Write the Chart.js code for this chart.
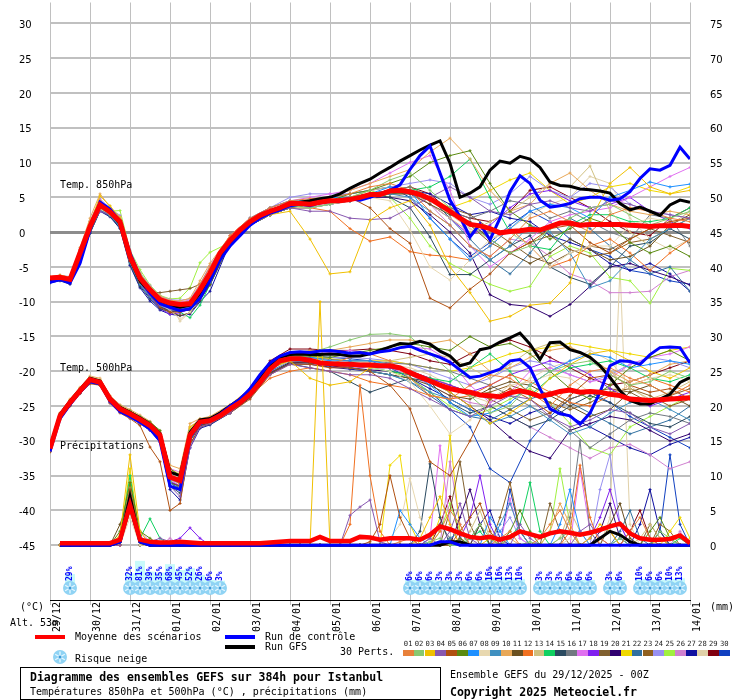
<!DOCTYPE html>
<html lang="fr">
<head>
<meta charset="utf-8">
<title>Diagramme des ensembles GEFS sur 384h pour Istanbul</title>
<script src="https://cdn.jsdelivr.net/npm/chart.js@4.4.1/dist/chart.umd.min.js"></script>
<style>
html,body{margin:0;padding:0;background:#fff;}
#wrap{position:relative;width:740px;height:700px;overflow:hidden;font-family:"DejaVu Sans Mono",monospace;font-size:10px;color:#000;}
#c{position:absolute;left:0;top:0;}
.t{position:absolute;white-space:pre;line-height:12px;}
.tb{position:absolute;white-space:pre;font-weight:bold;font-size:11.5px;line-height:14px;}
.sw{position:absolute;width:30px;height:4px;}
#box{position:absolute;left:20px;top:667px;width:419px;height:31px;border:1px solid #000;}
.pn{position:absolute;font-size:7.2px;line-height:8px;width:11px;text-align:center;color:#222;}
.pb{position:absolute;height:6px;}
</style>
</head>
<body>
<div id="wrap">
<canvas id="c" width="740" height="700"></canvas>
<div class="t" style="left:60px;top:179px">Temp. 850hPa</div>
<div class="t" style="left:60px;top:362px">Temp. 500hPa</div>
<div class="t" style="left:60px;top:440px">Précipitations</div>
<div class="t" style="left:20px;top:601px">(°C)</div>
<div class="t" style="left:10px;top:617px">Alt. 53m</div>
<div class="t" style="left:710px;top:601px">(mm)</div>
<div class="sw" style="left:35px;top:635px;background:#ff0000"></div>
<div class="t" style="left:75px;top:631px">Moyenne des scénarios</div>
<div class="sw" style="left:225px;top:635px;background:#0000ff"></div>
<div class="t" style="left:265px;top:631px">Run de contrôle</div>
<div class="sw" style="left:225px;top:645px;background:#000000"></div>
<div class="t" style="left:265px;top:641px">Run GFS</div>
<svg style="position:absolute;left:52px;top:649px" width="16" height="16" viewBox="0 0 16 16"><circle cx="8" cy="8" r="7" fill="#8fd3f4"/><path d="M8 2.5V13.5M3.2 5.2L12.8 10.8M3.2 10.8L12.8 5.2" stroke="#e6f7ff" stroke-width="1.3"/><circle cx="8" cy="8" r="1.5" fill="#3c9ad8"/></svg>
<div class="t" style="left:75px;top:653px">Risque neige</div>
<div class="t" style="left:340px;top:646px">30 Perts.</div>
<div id="perts"></div>
<div id="box"></div>
<div class="tb" style="left:30px;top:670px">Diagramme des ensembles GEFS sur 384h pour Istanbul</div>
<div class="t" style="left:30px;top:686px">Températures 850hPa et 500hPa (°C) , précipitations (mm)</div>
<div class="t" style="left:450px;top:669px">Ensemble GEFS du 29/12/2025 - 00Z</div>
<div class="tb" style="left:450px;top:685px">Copyright 2025 Meteociel.fr</div>
</div>
<script>
// ---------- categories / ticks ----------
const tickLabels = ["29/12","30/12","31/12","01/01","02/01","03/01","04/01","05/01","06/01","07/01","08/01","09/01","10/01","11/01","12/01","13/01","14/01"];
const dayHours = [0,24,48,72,96,120,144,168,192,216,240,264,288,312,336,360,384];
const leftTicks = [-45,-40,-35,-30,-25,-20,-15,-10,-5,0,5,10,15,20,25,30];
const rightTicks = [0,5,10,15,20,25,30,35,40,45,50,55,60,65,70,75];
const hours6 = [0,6,12,18,24,30,36,42,48,54,60,66,72,78,84,90,96,102,108,114,120,126,132,138,144,150,156,162,168,174,180,186,192,198,204,210,216,222,228,234,240,246,252,258,264,270,276,282,288,294,300,306,312,318,324,330,336,342,348,354,360,366,372,378,384];
const pertHours = [0,6,12,18,24,30,36,42,48,54,60,66,72,78,84,90,96,108,120,132,144,156,168,180,192,204,216,228,240,252,264,276,288,300,312,324,336,348,360,372,384];
const precipHours = hours6.slice(1);
const pertColors = ["#e8803a","#88c870","#f0c000","#8858b0","#b05010","#5a8a10","#1e90ff","#e8d8b0","#4090c0","#e8a858","#6a5020","#f07020","#d0c080","#10d060","#2a4a60","#707880","#e070f0","#8020f0","#806030","#300070","#f0d800","#3070a0","#906020","#9890f0","#a0f040","#d080d0","#1010a0","#e0d0a8","#800010","#1040c0"];

// ---------- mean / control / GFS ----------
const mean850 = [-6.6,-6.5,-6.8,-3.0,0.8,3.9,2.9,1.5,-3.5,-6.6,-8.3,-9.7,-10.2,-10.4,-10.3,-8.3,-5.9,-3.0,-1.2,0.3,1.5,2.4,3.0,3.5,4.1,4.1,4.0,4.3,4.5,4.5,4.7,5.0,5.4,5.4,5.9,6.0,5.8,5.4,4.8,3.9,3.0,2.0,1.1,0.9,0.5,-0.1,0.1,0.2,0.4,0.3,0.8,1.3,1.3,1.0,1.1,1.1,1.1,1.1,1.0,0.9,0.8,0.9,0.9,1.0,0.8];
const ctrl850 = [-7.2,-6.8,-7.3,-4.5,0.3,4.3,3.3,1.6,-3.0,-6.5,-8.8,-10.3,-10.8,-11.3,-11.0,-9.5,-7.0,-4.0,-2.0,-0.5,1.0,2.0,2.7,3.2,3.8,4.0,3.8,4.2,4.4,4.6,4.8,4.6,5.0,5.5,6.0,6.8,9.0,11.0,12.4,8.5,4.6,2.2,-0.7,1.2,-1.1,2.0,5.8,8.1,7.0,4.6,3.6,3.8,4.1,4.8,5.0,5.0,4.6,4.8,5.8,7.7,9.1,8.9,9.6,12.2,10.5];
const gfs850 = [-7.0,-6.6,-7.0,-3.5,0.5,4.0,3.0,1.2,-3.8,-7.0,-8.6,-10.0,-10.6,-10.8,-10.5,-8.8,-6.3,-3.5,-1.5,0.0,1.3,2.3,3.0,3.5,4.0,4.3,4.5,4.8,5.0,5.5,6.3,7.0,7.6,8.5,9.3,10.2,11.0,11.8,12.5,13.1,9.9,5.0,5.6,6.5,8.9,10.2,9.9,10.9,10.5,9.3,7.2,6.7,6.6,6.2,6.1,5.9,5.6,4.1,3.2,3.6,3.0,2.4,3.9,4.6,4.3];
const mean500 = [-31.1,-26.4,-24.5,-22.8,-21.2,-21.6,-24.0,-25.4,-26.1,-26.9,-27.8,-29.2,-35.2,-35.7,-29.2,-27.3,-27.1,-26.4,-25.4,-24.5,-23.3,-21.6,-19.7,-18.5,-18.2,-18.2,-18.4,-18.8,-18.9,-19.0,-19.0,-19.1,-19.1,-19.2,-19.2,-19.5,-20.2,-20.8,-21.4,-22.0,-22.5,-22.8,-23.0,-23.4,-23.5,-23.7,-23.1,-22.8,-23.1,-23.6,-23.3,-22.9,-22.7,-23.0,-22.9,-23.0,-23.3,-23.5,-24.0,-24.1,-24.2,-24.1,-24.0,-23.9,-23.8];
const ctrl500 = [-31.5,-26.8,-24.8,-23.0,-21.5,-21.8,-24.3,-25.8,-26.5,-27.3,-28.3,-30.0,-36.5,-37.0,-29.5,-27.5,-27.0,-26.2,-25.0,-24.0,-22.5,-20.5,-18.8,-17.8,-17.3,-17.2,-17.3,-17.1,-17.0,-17.2,-17.4,-17.3,-17.5,-17.2,-17.0,-16.6,-16.4,-17.0,-17.5,-18.0,-18.7,-19.8,-20.9,-20.7,-20.2,-19.7,-18.5,-18.3,-19.5,-22.5,-25.4,-26.1,-26.4,-27.6,-26.0,-23.0,-19.2,-18.5,-18.6,-19.0,-17.6,-16.6,-16.5,-16.6,-18.8];
const gfs500 = [-31.0,-26.2,-24.3,-22.6,-21.0,-21.4,-23.8,-25.2,-25.9,-26.7,-27.6,-29.0,-34.5,-35.0,-28.8,-27.0,-26.8,-26.0,-25.0,-24.0,-22.8,-21.0,-19.2,-18.0,-17.6,-17.5,-17.6,-17.6,-17.5,-17.6,-17.8,-17.8,-17.5,-17.0,-16.5,-16.0,-16.1,-15.7,-16.1,-17.1,-17.8,-19.2,-18.8,-16.9,-16.6,-15.8,-15.2,-14.5,-16.1,-18.3,-15.9,-15.8,-16.9,-17.3,-18.0,-19.2,-20.9,-22.8,-24.2,-24.7,-24.7,-24.0,-23.3,-21.6,-20.9];
const meanPrecip = [0.3,0.3,0.3,0.3,0.3,0.3,0.8,5.8,0.8,0.5,0.4,0.4,0.5,0.4,0.3,0.3,0.3,0.3,0.3,0.3,0.3,0.4,0.5,0.6,0.6,0.6,1.2,0.6,0.6,0.6,1.2,1.1,0.8,1.0,1.0,1.0,0.8,1.5,2.7,2.3,1.7,1.2,1.0,1.2,0.8,1.2,2.0,1.6,1.2,1.7,2.0,1.8,1.5,1.8,2.2,2.7,3.1,1.7,1.0,0.8,0.8,0.9,1.4,0.3];
const ctrlPrecip = [0,0,0,0,0,0,0.5,6,0.5,0,0,0,0,0,0,0, 0,0,0,0,0,0,0,0,0,0,0,0,0,0,0,0, 0,0,0,0,0,0,0.5,0.5,0,0,0,0,0,0,0,0, 0,0,0,0,0,0,0,0,0,0,0,0,0,0,0,0];
const gfsPrecip = [0,0,0,0,0,0,0.5,7,0.5,0,0,0,0,0,0,0, 0,0,0,0,0,0,0,0,0,0,0,0,0,0,0,0, 0,0,0,0,0,0,0,0.5,0.5,0,0,0,0,0,0,0, 0,0,0,0,0,0,1,2,1.5,0.5,0,0,0,0,0,0];

// ---------- perturbations (850 hPa, °C) ----------
const t850Perts = [
[-6.8,-6.3,-6.6,-2.5,1.5,4.5,3.2,1.0,-4.0,-7.0,-8.8,-10.0,-10.5,-10.8,-10.0,-7.5,-5.0,-0.5,2.0,3.5,4.5,4.8,5.0,5.5,6.5,7.0,6.0,3.0,1.0,-2.0,-3.5,-1.0,2.0,3.0,1.5,0.0,2.5,3.5,3.0,2.0,1.5],
[-6.5,-6.7,-7.0,-3.5,0.2,3.5,2.5,1.8,-3.0,-6.0,-8.0,-9.5,-10.0,-10.2,-10.5,-9.0,-6.5,-1.5,1.0,2.8,3.8,3.5,4.0,5.0,6.0,7.5,8.5,6.0,3.5,1.0,-1.0,-3.0,-2.0,0.5,2.0,3.5,4.0,2.5,1.0,2.0,3.0],
[-6.4,-6.2,-6.5,-2.8,1.2,5.2,3.8,2.0,-3.2,-6.4,-8.1,-9.8,-10.3,-10.4,-10.0,-8.0,-5.5,-1.0,1.2,2.5,3.0,-1.0,-6.0,-5.7,1.7,3.5,4.5,1.0,-5.0,-8.7,-12.8,-12.1,-10.5,-10.2,-7.3,1.7,7.0,9.3,6.5,5.5,6.0],
[-6.9,-6.6,-7.0,-3.2,0.5,3.0,2.5,1.2,-3.8,-7.0,-9.0,-10.5,-11.0,-11.0,-10.5,-9.0,-6.5,-2.0,1.0,2.5,3.5,3.0,3.0,2.0,1.8,2.0,3.5,5.0,6.5,5.0,3.0,2.5,4.0,4.5,3.5,3.0,4.5,4.0,3.0,2.5,2.0],
[-6.6,-6.4,-6.9,-3.3,0.6,3.6,2.7,1.0,-4.2,-7.2,-9.0,-10.8,-11.5,-11.5,-11.0,-9.0,-6.0,-1.0,1.5,3.0,4.0,4.2,4.6,5.0,3.5,0.5,-1.6,-9.5,-10.9,-8.2,-6.0,-3.0,-1.5,0.5,1.0,-1.5,-3.0,-1.0,0.5,1.5,2.0],
[-6.7,-6.5,-6.7,-2.9,1.0,4.2,3.0,1.6,-3.3,-6.5,-8.5,-9.9,-10.6,-10.7,-10.6,-8.5,-6.0,-1.5,1.0,2.5,3.5,4.0,4.5,5.5,6.0,7.0,8.0,10.0,11.0,11.7,7.0,3.0,1.0,-1.0,0.5,2.0,1.0,-1.5,-3.0,-2.0,-3.5],
[-6.6,-6.3,-6.8,-3.1,0.9,4.0,3.1,1.7,-3.6,-6.8,-8.4,-9.6,-10.0,-10.3,-10.2,-8.0,-5.6,-1.0,2.0,3.5,4.5,4.5,5.0,5.0,5.5,6.5,6.0,2.0,-1.0,-4.0,-2.0,0.5,3.0,4.0,3.5,2.0,5.0,6.0,7.2,6.5,6.9],
[-6.5,-6.6,-6.9,-3.4,0.4,3.3,2.6,1.3,-3.9,-7.1,-8.9,-10.4,-11.2,-12.5,-11.5,-9.5,-7.0,-1.5,1.0,2.5,3.5,3.5,4.0,4.5,5.0,4.5,0.3,-5.0,-6.9,-4.0,-1.0,0.0,-2.0,-5.0,-3.0,-2.0,-2.0,1.0,2.0,1.5,2.0],
[-7.0,-6.8,-7.2,-3.8,0.0,3.2,2.4,0.8,-4.4,-7.5,-9.3,-10.6,-11.2,-11.0,-10.8,-9.2,-7.2,-1.0,1.5,3.0,4.0,4.0,4.5,4.5,5.0,5.5,5.0,3.0,1.0,-2.0,-4.0,-2.0,1.0,0.0,-3.0,-8.0,-7.0,-4.0,-1.0,0.5,2.0],
[-6.6,-6.2,-6.5,-2.2,2.0,5.5,3.6,2.2,-2.8,-5.9,-7.8,-9.2,-9.8,-9.9,-9.5,-7.0,-4.5,-0.5,2.0,3.5,4.5,4.5,5.0,6.0,7.0,8.0,9.0,11.5,13.5,10.5,6.0,3.0,4.0,7.0,8.5,6.0,4.0,3.0,2.5,3.0,2.5],
[-6.8,-6.6,-7.1,-3.6,0.3,3.4,2.6,1.4,-3.4,-6.6,-8.6,-10.3,-11.5,-12.0,-11.6,-9.8,-7.5,-1.5,1.0,2.5,3.5,4.0,4.5,4.5,5.0,5.5,5.5,4.0,2.5,1.5,-1.0,-3.0,-4.5,-3.0,-1.0,-2.5,-4.0,-3.5,-2.0,1.0,2.5],
[-6.5,-6.4,-6.7,-2.9,1.1,4.1,3.0,1.6,-3.4,-6.5,-8.2,-9.6,-10.1,-10.3,-10.1,-8.1,-5.5,-1.2,1.5,3.0,3.5,3.5,3.0,0.5,-1.3,-0.7,-2.8,-3.3,-3.5,-4.0,-2.0,0.5,-2.0,-5.0,-4.0,-2.0,-1.0,-3.0,-5.5,-3.0,-1.0],
[-6.7,-6.5,-6.9,-3.2,0.7,3.8,2.8,1.4,-3.7,-6.8,-8.6,-10.0,-10.5,-10.6,-10.3,-8.4,-6.0,-1.0,1.5,3.0,4.0,4.5,5.0,5.0,6.0,6.5,6.0,4.0,2.0,0.0,1.5,3.0,5.0,7.0,6.5,9.5,3.0,0.0,-2.0,1.0,3.0],
[-6.6,-6.5,-6.8,-3.0,0.8,3.8,2.9,1.5,-3.5,-6.6,-8.3,-9.8,-10.8,-11.5,-12.3,-10.5,-7.5,-1.5,1.0,2.5,3.5,3.5,4.0,4.5,5.0,5.5,6.0,6.5,8.0,10.5,5.0,0.0,-2.0,-2.5,1.0,2.5,2.5,1.5,1.5,2.0,3.5],
[-7.2,-6.9,-7.4,-4.0,-0.2,3.1,2.3,0.6,-4.6,-7.8,-9.6,-11.0,-11.5,-11.2,-10.9,-9.3,-7.3,-1.0,1.5,3.0,4.0,4.5,5.0,5.0,5.5,5.0,3.5,-0.7,-6.1,-6.1,-4.0,-2.0,-0.5,-5.0,-6.5,-7.5,-5.0,-2.0,-1.5,0.5,-1.0],
[-6.6,-6.4,-6.7,-2.7,1.3,4.4,3.2,1.8,-3.1,-6.2,-8.0,-9.5,-10.0,-10.2,-10.0,-8.0,-5.4,-1.5,1.0,2.5,3.5,4.0,4.5,5.0,5.5,6.0,6.5,5.0,3.0,2.0,3.0,4.5,4.0,2.0,3.0,1.5,0.0,-1.0,2.5,2.0,-2.0],
[-6.5,-6.3,-6.6,-2.6,1.2,4.6,3.3,2.0,-3.0,-6.0,-7.9,-9.3,-9.8,-10.0,-9.8,-7.7,-5.0,-0.5,2.0,3.5,4.5,5.0,5.5,6.0,7.0,8.5,10.0,11.0,6.0,-2.0,-5.0,-3.0,-1.0,1.5,2.5,3.0,3.5,5.0,6.5,8.0,9.3],
[-6.8,-6.6,-7.0,-3.4,0.4,3.4,2.5,1.1,-4.0,-7.2,-9.3,-11.0,-11.8,-11.6,-11.0,-8.8,-6.2,-1.5,1.0,2.5,3.5,3.5,4.0,4.5,5.5,6.0,5.5,4.0,2.0,-0.5,1.0,3.5,5.5,6.0,4.5,3.5,4.0,5.0,3.0,1.5,0.5],
[-6.6,-6.5,-6.9,-3.1,0.7,3.7,2.8,1.3,-3.8,-7.0,-8.7,-8.7,-8.5,-8.3,-8.1,-7.5,-5.5,-1.0,1.5,3.0,4.0,4.0,4.5,4.5,5.0,5.5,5.5,4.5,3.5,2.5,0.5,-1.5,-3.5,-4.5,-3.0,-2.0,-2.5,-1.0,0.5,-0.5,-1.5],
[-6.9,-6.7,-7.1,-3.7,0.1,3.3,2.4,1.0,-4.1,-7.3,-9.1,-10.7,-11.3,-11.4,-11.2,-9.6,-7.6,-1.5,1.0,2.5,3.5,3.5,4.0,4.5,5.0,5.0,4.5,2.5,0.0,-3.0,-9.0,-10.4,-10.7,-12.1,-10.4,-7.8,-5.0,-4.5,-5.5,-6.4,-7.6],
[-6.5,-6.3,-6.6,-2.7,1.3,4.5,3.3,1.9,-3.1,-6.3,-8.0,-9.4,-9.9,-10.1,-9.8,-7.8,-5.2,-1.0,1.5,3.0,4.0,4.0,4.5,5.0,5.5,6.0,6.5,5.0,3.5,4.5,6.0,7.5,8.5,6.0,4.0,5.0,6.5,7.0,6.0,5.5,6.5],
[-6.7,-6.6,-7.0,-3.3,0.5,3.5,2.6,1.2,-3.9,-7.1,-8.9,-10.4,-11.0,-11.1,-10.9,-9.0,-6.8,-1.5,1.0,2.5,3.5,4.0,4.5,4.5,5.0,5.5,6.0,5.0,2.0,-1.0,-4.0,-6.0,-3.0,0.5,2.0,0.5,-2.0,-4.0,-6.0,-5.0,-8.5],
[-6.6,-6.4,-6.8,-3.0,0.8,3.9,2.9,1.5,-3.5,-6.7,-8.4,-9.8,-10.3,-10.5,-10.4,-8.4,-6.0,-1.0,1.5,3.0,3.5,4.0,4.5,5.0,5.5,6.0,6.0,4.5,3.0,1.0,-1.5,-3.0,-1.5,-0.5,-2.5,-3.5,-3.0,-1.5,-1.0,0.5,2.0],
[-6.4,-6.2,-6.4,-2.4,1.6,4.8,3.4,2.4,-2.7,-5.8,-7.7,-9.2,-9.7,-9.8,-9.6,-7.5,-4.8,-0.5,2.0,3.5,5.0,5.5,5.5,5.5,6.0,6.5,7.0,7.5,7.0,5.0,4.0,5.5,8.0,6.0,5.0,7.0,6.5,4.0,3.0,2.5,2.0],
[-6.5,-6.4,-6.7,-2.8,1.0,4.0,3.0,3.1,-2.6,-5.4,-7.6,-9.1,-9.6,-9.5,-8.0,-4.4,-2.9,-1.5,1.0,2.5,3.5,4.0,4.5,5.0,6.0,5.0,2.0,-2.0,-4.5,-6.0,-7.5,-8.5,-7.8,-3.5,-2.0,-3.0,-6.5,-7.0,-10.2,-5.2,-5.5],
[-6.7,-6.5,-6.9,-3.2,0.6,3.6,2.7,1.3,-3.7,-6.9,-8.7,-10.2,-10.7,-10.9,-10.7,-8.7,-6.3,-1.0,1.5,3.0,4.0,4.5,5.0,5.0,5.5,6.0,6.0,4.0,1.0,-2.0,-3.5,-1.0,-1.5,-3.5,-6.0,-7.0,-8.7,-8.7,-8.5,-6.4,-5.5],
[-7.3,-7.0,-7.5,-4.3,-0.1,3.0,2.2,0.5,-4.8,-8.0,-9.9,-11.2,-11.8,-12.0,-11.8,-10.0,-8.5,-1.5,1.0,2.5,3.5,4.0,4.5,5.0,5.5,6.0,6.0,5.5,4.0,2.5,3.0,2.0,1.5,-0.5,-1.5,-2.5,-4.5,-5.5,-4.5,-6.0,-8.5],
[-6.5,-6.4,-6.7,-2.9,1.0,4.1,3.0,1.6,-3.4,-6.5,-8.2,-9.6,-10.2,-12.8,-11.5,-9.0,-6.5,-1.0,1.5,3.0,4.0,4.0,4.5,5.0,5.5,5.5,6.0,4.5,2.5,0.5,-1.0,0.5,2.5,4.0,5.0,8.0,7.0,2.0,-1.0,-2.5,-1.0],
[-6.6,-6.4,-6.8,-3.0,0.9,4.0,2.9,1.5,-3.5,-6.6,-8.3,-9.7,-10.1,-10.2,-10.0,-8.0,-5.7,-1.5,1.0,2.5,3.5,4.0,4.5,5.0,5.5,6.0,6.5,5.5,3.0,2.0,1.5,3.0,6.0,6.5,5.0,3.5,1.5,0.0,-0.5,2.0,3.5],
[-7.1,-6.8,-7.3,-3.9,0.0,3.2,2.4,0.8,-4.3,-7.6,-9.4,-10.8,-11.4,-11.3,-11.0,-9.4,-7.4,-1.0,1.5,3.0,4.0,4.5,5.0,5.5,6.0,6.5,5.0,2.0,-1.0,-3.5,-1.5,1.0,3.0,1.5,-1.0,-2.5,-3.5,-5.5,-6.0,-7.0,-7.5]
];

// ---------- perturbations (500 hPa, °C) ----------
const t500Perts = [
[-31.3,-26.0,-24.2,-22.5,-21.0,-21.3,-23.8,-25.6,-26.3,-27.0,-28.0,-29.5,-34.0,-36.5,-29.0,-27.5,-27.3,-25.0,-23.0,-19.5,-18.0,-18.5,-19.0,-18.0,-17.5,-18.5,-21.0,-23.5,-24.0,-22.0,-20.5,-21.0,-23.0,-25.0,-22.0,-20.0,-19.5,-21.0,-22.0,-23.5,-22.0],
[-30.8,-26.5,-24.8,-23.0,-21.5,-21.7,-24.2,-25.2,-25.8,-26.5,-27.5,-29.0,-36.0,-35.0,-28.5,-27.0,-26.8,-25.5,-22.5,-19.0,-17.5,-17.3,-16.5,-15.5,-14.7,-14.6,-15.0,-17.5,-20.0,-23.5,-26.0,-25.0,-22.0,-20.0,-19.0,-18.5,-20.5,-22.0,-21.5,-20.0,-21.0],
[-31.0,-26.2,-24.4,-22.7,-21.1,-21.5,-23.9,-25.3,-26.0,-26.8,-27.7,-29.1,-35.0,-35.5,-28.0,-27.0,-26.9,-25.3,-23.0,-19.5,-18.5,-21.0,-22.0,-21.5,-19.5,-19.0,-20.0,-21.5,-23.0,-25.0,-27.5,-26.0,-24.0,-21.0,-19.0,-17.5,-17.0,-18.5,-20.0,-21.0,-19.5],
[-31.4,-26.7,-24.7,-23.0,-21.4,-21.9,-24.5,-25.9,-26.7,-27.5,-28.5,-30.0,-36.5,-38.0,-31.0,-28.0,-27.5,-26.0,-23.5,-20.5,-19.0,-19.5,-20.0,-20.5,-20.5,-21.0,-22.5,-24.0,-25.5,-26.5,-25.0,-23.5,-24.0,-26.5,-28.0,-27.0,-25.5,-26.0,-28.0,-29.0,-27.5],
[-31.6,-27.0,-25.0,-23.2,-21.8,-22.0,-24.6,-26.0,-26.8,-27.8,-30.9,-33.0,-40.0,-39.0,-30.5,-28.0,-27.5,-26.0,-24.0,-20.5,-19.0,-19.0,-19.5,-19.5,-20.0,-22.0,-25.4,-33.0,-35.0,-30.0,-24.0,-22.5,-24.0,-26.0,-23.5,-21.0,-20.5,-22.0,-23.0,-22.5,-24.0],
[-31.0,-26.3,-24.3,-22.6,-21.0,-21.4,-23.8,-25.0,-25.7,-26.5,-27.3,-28.5,-34.0,-35.0,-28.5,-27.0,-26.8,-25.0,-22.8,-19.0,-17.8,-17.8,-18.0,-17.5,-17.0,-16.5,-16.0,-16.5,-17.0,-15.0,-16.5,-16.0,-17.5,-20.0,-22.5,-24.0,-22.0,-19.5,-18.0,-17.0,-18.5],
[-31.2,-26.4,-24.4,-22.8,-21.2,-21.6,-24.1,-25.5,-26.2,-27.0,-27.9,-29.3,-35.5,-36.0,-29.5,-27.5,-27.2,-25.4,-23.0,-19.5,-18.0,-18.0,-18.5,-18.5,-18.5,-19.0,-20.0,-22.0,-24.5,-26.5,-26.0,-24.5,-22.0,-20.0,-18.5,-17.5,-18.0,-19.5,-19.0,-18.5,-19.0],
[-30.9,-26.1,-24.2,-22.4,-20.8,-21.2,-23.6,-25.0,-25.8,-26.6,-27.5,-29.0,-34.5,-34.5,-28.0,-27.0,-26.8,-25.2,-23.2,-19.8,-18.5,-18.3,-18.5,-19.0,-19.5,-20.0,-21.5,-25.0,-29.0,-27.0,-24.0,-22.0,-21.5,-20.5,-21.0,-23.0,-23.5,-22.0,-21.0,-20.5,-21.5],
[-31.3,-26.6,-24.6,-22.9,-21.3,-21.7,-24.2,-25.6,-26.3,-27.1,-28.0,-29.6,-36.0,-37.0,-30.0,-27.6,-27.3,-25.6,-23.5,-20.0,-18.5,-18.6,-19.0,-19.5,-20.0,-20.5,-21.5,-23.0,-24.0,-25.5,-27.5,-26.5,-25.0,-27.0,-29.0,-28.0,-26.0,-24.5,-24.0,-25.5,-27.0],
[-30.7,-26.0,-24.0,-22.3,-20.7,-21.0,-23.5,-24.8,-25.5,-26.3,-27.2,-28.6,-33.5,-34.0,-27.5,-26.8,-26.5,-24.8,-22.5,-19.0,-17.5,-17.0,-17.0,-16.5,-16.0,-15.5,-15.5,-16.0,-15.5,-17.5,-20.0,-19.5,-18.0,-17.0,-16.5,-18.0,-20.0,-21.5,-20.5,-19.0,-18.5],
[-31.2,-26.5,-24.6,-22.9,-21.3,-21.8,-24.3,-25.7,-26.4,-27.3,-28.3,-29.8,-36.0,-36.5,-30.0,-27.8,-27.4,-25.8,-23.7,-20.3,-18.8,-18.8,-19.0,-19.5,-20.0,-20.5,-21.0,-22.0,-23.5,-24.0,-22.5,-21.5,-22.0,-23.5,-25.0,-26.5,-25.5,-23.0,-22.0,-23.5,-25.0],
[-31.1,-26.5,-24.5,-22.8,-21.2,-21.6,-24.0,-25.4,-26.1,-26.9,-27.9,-29.4,-35.5,-36.0,-29.0,-27.4,-27.2,-25.5,-23.5,-21.0,-20.0,-19.5,-20.0,-20.5,-21.5,-22.0,-22.5,-23.5,-24.0,-23.5,-22.0,-20.5,-21.5,-23.0,-24.5,-25.0,-23.5,-22.0,-21.0,-22.0,-23.0],
[-31.0,-26.3,-24.4,-22.7,-21.1,-21.5,-23.9,-25.3,-26.0,-26.8,-27.7,-29.1,-35.0,-35.5,-29.0,-27.2,-27.0,-25.3,-23.2,-19.6,-18.1,-18.2,-18.5,-18.8,-19.0,-18.5,-18.0,-17.5,-18.0,-19.5,-21.0,-19.0,-17.0,-16.0,-16.5,-18.0,-20.0,-22.5,-24.0,-23.0,-21.5],
[-31.2,-26.4,-24.5,-22.8,-21.2,-21.6,-24.0,-25.4,-26.1,-26.9,-27.8,-29.2,-35.2,-36.0,-29.2,-27.3,-27.1,-25.4,-23.3,-19.7,-18.2,-18.4,-18.9,-19.0,-19.5,-20.0,-20.5,-21.0,-21.5,-19.5,-17.5,-20.0,-23.5,-21.0,-19.5,-19.0,-18.5,-19.5,-21.0,-21.5,-20.5],
[-31.5,-26.8,-24.9,-23.1,-21.6,-21.9,-24.4,-25.8,-26.5,-27.4,-28.4,-30.0,-36.5,-37.5,-30.5,-28.0,-27.6,-26.0,-23.8,-20.3,-18.9,-19.5,-20.0,-21.5,-23.0,-22.0,-21.0,-21.5,-24.5,-26.0,-25.0,-26.5,-28.0,-27.0,-25.0,-23.5,-24.5,-26.0,-27.5,-28.0,-26.5],
[-31.0,-26.2,-24.3,-22.6,-21.0,-21.4,-23.8,-25.2,-25.9,-26.7,-27.6,-29.0,-35.0,-35.5,-28.8,-27.0,-26.8,-25.2,-23.0,-19.5,-18.0,-18.0,-18.3,-18.5,-18.5,-18.8,-19.0,-19.5,-20.0,-21.0,-22.0,-23.5,-25.0,-26.5,-28.5,-31.0,-29.0,-27.0,-26.0,-26.5,-27.5],
[-30.9,-26.2,-24.2,-22.5,-20.9,-21.3,-23.7,-25.1,-25.8,-26.6,-27.5,-28.8,-34.0,-34.5,-28.0,-26.9,-26.7,-25.0,-22.8,-19.0,-17.6,-17.5,-17.3,-17.0,-17.5,-17.0,-16.5,-16.8,-18.5,-22.0,-24.5,-23.0,-20.0,-19.5,-20.5,-21.5,-21.0,-19.0,-18.0,-17.5,-16.5],
[-31.3,-26.6,-24.6,-22.9,-21.3,-21.7,-24.2,-25.6,-26.3,-27.1,-28.1,-29.5,-35.8,-36.5,-29.8,-27.6,-27.3,-25.6,-23.5,-19.9,-18.4,-18.6,-19.0,-19.3,-19.5,-19.5,-20.0,-21.0,-22.0,-23.0,-22.0,-20.5,-19.5,-18.5,-19.0,-20.5,-22.5,-24.0,-25.0,-24.0,-23.0],
[-31.2,-26.5,-24.5,-22.8,-21.2,-21.6,-24.0,-25.4,-26.2,-27.0,-28.0,-29.5,-36.0,-36.5,-29.5,-27.5,-27.2,-25.6,-23.4,-19.8,-18.3,-18.5,-19.0,-19.2,-19.3,-19.5,-20.0,-21.0,-22.0,-23.0,-24.0,-25.5,-27.0,-26.0,-24.0,-23.0,-22.5,-23.0,-24.5,-23.5,-22.5],
[-31.4,-26.7,-24.7,-23.0,-21.4,-21.8,-24.3,-25.7,-26.4,-27.2,-28.2,-29.7,-36.0,-37.0,-30.0,-27.8,-27.5,-25.8,-23.7,-20.2,-18.7,-18.8,-19.2,-19.5,-19.8,-20.0,-20.5,-21.5,-23.0,-25.0,-27.0,-29.5,-31.5,-32.5,-28.5,-27.5,-26.5,-27.0,-28.5,-30.0,-29.0],
[-30.8,-26.1,-24.1,-22.4,-20.8,-21.2,-23.6,-25.0,-25.7,-26.5,-27.4,-28.8,-34.0,-34.8,-28.2,-26.9,-26.7,-25.0,-22.8,-19.2,-17.8,-17.8,-18.2,-18.5,-18.5,-18.5,-19.0,-19.5,-20.0,-19.5,-18.5,-17.5,-17.0,-16.5,-16.0,-16.5,-17.0,-17.5,-18.0,-17.0,-16.5],
[-31.3,-26.6,-24.6,-22.9,-21.3,-21.7,-24.2,-25.6,-26.3,-27.1,-28.0,-29.5,-35.8,-36.8,-29.8,-27.6,-27.3,-25.6,-23.5,-20.0,-18.5,-18.7,-19.2,-19.5,-20.0,-20.5,-21.5,-23.5,-25.5,-26.5,-27.0,-25.5,-24.0,-23.0,-24.5,-26.0,-27.5,-29.0,-28.0,-27.0,-25.0],
[-31.1,-26.4,-24.5,-22.8,-21.2,-21.6,-24.1,-25.5,-26.2,-27.0,-27.9,-29.4,-35.4,-36.2,-29.4,-27.4,-27.1,-25.4,-23.3,-19.8,-18.3,-18.4,-18.8,-19.0,-19.2,-19.5,-20.0,-21.0,-22.5,-23.5,-23.0,-22.0,-23.0,-24.5,-25.5,-24.5,-23.0,-22.5,-23.5,-25.0,-24.0],
[-30.9,-26.2,-24.3,-22.6,-21.0,-21.4,-23.8,-25.2,-25.9,-26.7,-27.6,-29.0,-34.8,-35.5,-28.8,-27.0,-26.9,-25.2,-23.0,-19.3,-17.8,-17.8,-18.0,-18.0,-18.2,-18.5,-19.0,-20.0,-21.0,-22.0,-21.0,-19.5,-18.5,-19.0,-20.5,-21.5,-20.5,-19.0,-18.0,-18.5,-19.5],
[-31.0,-26.3,-24.4,-22.7,-21.1,-21.5,-23.9,-25.3,-26.0,-26.8,-27.7,-29.1,-35.2,-35.8,-29.0,-27.2,-27.0,-25.3,-23.2,-19.6,-18.2,-18.4,-18.8,-19.0,-19.5,-20.0,-21.0,-23.0,-25.0,-26.5,-25.5,-24.0,-22.5,-24.5,-27.5,-31.0,-32.0,-28.0,-26.5,-25.0,-23.5],
[-31.2,-26.5,-24.5,-22.8,-21.2,-21.6,-24.0,-25.5,-26.2,-27.0,-28.0,-29.4,-35.5,-36.5,-29.5,-27.4,-27.1,-25.5,-23.4,-19.8,-18.2,-18.3,-18.6,-18.8,-19.0,-19.5,-20.5,-22.0,-23.5,-24.5,-25.0,-26.5,-28.0,-29.5,-31.0,-32.5,-31.0,-30.5,-32.0,-34.0,-33.0],
[-31.5,-26.8,-24.9,-23.2,-21.6,-22.0,-24.5,-25.9,-26.6,-27.5,-28.5,-30.2,-37.0,-38.5,-31.0,-28.2,-27.7,-26.0,-23.8,-20.4,-18.9,-19.0,-19.4,-19.7,-20.0,-20.5,-21.0,-22.5,-24.0,-25.5,-26.5,-27.5,-26.0,-25.0,-26.5,-28.0,-29.5,-31.0,-32.0,-30.5,-29.5],
[-30.9,-26.2,-24.3,-22.6,-21.0,-21.3,-23.7,-25.1,-25.9,-26.7,-27.6,-29.0,-34.8,-35.3,-28.6,-27.0,-26.8,-25.2,-23.0,-19.4,-17.9,-18.0,-18.3,-18.6,-18.8,-19.0,-19.5,-20.5,-22.0,-23.5,-24.5,-23.0,-21.0,-19.5,-18.5,-17.0,-18.5,-22.0,-24.5,-23.5,-22.0],
[-31.0,-26.2,-24.3,-22.6,-21.0,-21.4,-23.7,-25.0,-25.8,-26.6,-27.5,-28.8,-34.5,-35.0,-28.5,-27.0,-26.8,-25.0,-22.5,-18.5,-16.8,-16.8,-17.0,-17.0,-16.8,-17.0,-17.5,-18.5,-19.0,-17.5,-16.5,-15.5,-16.5,-18.0,-19.5,-21.0,-22.0,-21.5,-20.5,-19.5,-18.5],
[-31.3,-26.6,-24.6,-22.9,-21.3,-21.7,-24.2,-25.6,-26.3,-27.1,-28.1,-29.6,-36.0,-37.0,-30.0,-27.7,-27.4,-25.6,-23.4,-19.6,-17.9,-17.8,-18.0,-18.2,-18.5,-19.5,-21.0,-23.0,-25.5,-28.0,-34.0,-36.0,-30.0,-26.5,-24.0,-23.0,-24.5,-26.5,-28.0,-29.5,-31.0]
];

// ---------- perturbations (précipitations, mm / 6h) ----------
const precipPerts = [
[0,0,0,0,0,0,1,7,1,0,0,0,0,0,0,0, 0,0,0,0,0,0,0,0,0,0,0,0,0,0,0,0, 0,0,0.5,1,0,0,2,5,3,0,0,0,1,2,0,0, 1,3,5,2,0,0,1,0,0,2,4,1,0,0,0,0],
[0,0,0,0,0,0,0.5,6,0.5,0,0,0,0,0,0,0, 0,0,0,0,0,0,0,0,0,0,0,0,0,0,0,0, 0,0,0,0,0,0.5,1,0,0,1,3,1,0,0,0,0.5, 0,0,1,2,0,0,0,0,1,0,0,0,2,1,0,0],
[0,0,0,0,0,0,1.5,13,2,0,0,0,0,0,0,0, 0,0,0,0,0,0,0,0,0,0,35,0,0,0,0,0, 0,0,0,0,1,4,7,3,0,0,0,1,0,0,0,0, 0,0,0,0,0,1,3,2,0,0,0,0,1,0,0,0],
[0,0,0,0,0,0,0,5,1,0.5,1,0.5,0,0,0,0, 0,0,0,0,0,0,0,0,0,0,0,0,0,4.3,5.5,6.5, 0.5,0,0,0,0,1,0,2,6,1,0,0,0,0,3,1, 0,0,0,0,2,3,1,0,0,0,0,0,0,0,0,0],
[0,0,0,0,0,0,0,8,1,0,0,0,0,0,0,0, 0,0,0,0,0,0,0,0,0,0,0,0,0,0,0,0.5, 3,10,4,1,0,0,0,0,2,4,6,2,0,0,0,0, 0,0,0,0,0,0,1,2,0,0,0,0,0,0,0,0],
[0,0,0,0,0,0,2,9,2,1,0,0,0,0,0,0, 0,0,0,0,0,0,0,0,0,0,0,0,0,0,0,0, 0,0,0,0,0,0,0,0,1,0,0,0,0,2,5,2, 0,0,0,0,0,0,0,0,0,0,0,2,4,1,0,0],
[0,0,0,0,0,0,0.5,6,0.5,0,0,0,0,0,0,0, 0,0,0,0,0,0,0,0,0,0,0,0,0,0,0,0, 0,0,5,3,1,0,0,0,0,0,0,4,2,0,0,0, 0,0,3,8,2,0,0,0,0,0,0,0,0,0,0,0],
[0,0,0,0,0,0,0,4,0,0,0,0,0,0,0,0, 0,0,0,0,0,0,0,0,0,0,0,0,0,0,0,0, 0,1,3,9.6,4,0,0,0,0,0,1,2,0,0,0,0, 0,0,0,1,0,0,0,0,0,0,0,0,0,0,0,0],
[0,0,0,0,0,0,1,8,1,0,0,0,0,0,0,0, 0,0,0,0,0,0,0,0,0,0,0,0,0,0,0,0, 0,0,0,0,0,0,0,1,2,0,0,0,3,6,2,0, 0,0,0,0,0,0,0,0,1,0,0,0,0,0,0,0],
[0,0,0,0,0,0,0,5,1,0,0,0,0,0,0,0, 0,0,0,0,0,0,0,0,0,0,0,0,0,0,0,0, 0,0,0,0,0,0,0,0,0,0,0,0,0,1,0,0, 0,2,6,3,0,0,0,0,0,0,0,0,0,0,0,0],
[0,0,0,0,0,0,3,7,0,0,0,0,0,0,0,0, 0,0,0,0,0,0,0,0,0,0,0,0,0,0,0,0, 0,0,0,0,0,0,0,1,0,0,3,0,0,0,0,0, 0,0,0,0,0,0,0,3,6,1,0,0,0,0,0,0],
[0,0,0,0,0,0,0,9,1,0,0,0,0,0,0,0, 0,0,0,0,0,0,0,0,0,0,0,0,0,3,23,10, 2,0,0,0,0,0,0,0,0,0,0,0,0,0,0,0, 0,0,0,2,11.5,4,0,0,0,0,0,0,0,0,0,0],
[0,0,0,0,0,0,0,6,0,0,0,0,0,0,0,0, 0,0,0,0,0,0,0,0,0,0,0,0,0,0,0,0, 0,0,0,0,0,0,0,0,0,2,5,1,0,0,0,0, 0,0,1,5,2,0,0,0,0,0,1,3,1,0,0,0],
[0,0,0,0,0,0,1,10,1,3.8,1,0,0,0,0,0, 0,0,0,0,0,0,0,0,0,0,0,0,0,0,0,0, 0,0,0,0,0,0,0,0,0,1,2,0,0,1,3,9, 2,0,0,0,0,0,0,0,0,0,0,0,0,0,1,0],
[0,0,0,0,0,0,0.5,5,0,0,0,0,0,0,0,0, 0,0,0,0,0,0,0,0,0,0,0,0,0,0,0,0, 0,0,0,0,2,11.7,4,0,0,0,0,0,0,0,0,0, 0,0,0,0,0,0,0,0,0,0,0,0,2,0,0,0],
[0,0,0,0,0,0,0,7,1,0,0,0,0,0,0,0, 0,0,0,0,0,0,0,0,0,0,0,0,0,0,0,0, 0,0,0,0,0,1,3,1,0,0,0,0,0,0,0,0, 0,0,0,4,15,2,0,0,0,0,0,0,0,0,0,0],
[0,0,0,0,0,0,1,8,1.5,0,0,0,0,0,0,0, 0,0,0,0,0,0,0,0,0,0,0,0,0,0,0,0, 0,0,0,0,0,1,14.3,3,0,0,0,0,0,6.7,1,0, 0,0,0,0,11,2,0,0,0,0,0,0,0,0,0,0],
[0,0,0,0,0,0,0,6,1,0,0,0.5,1,2.5,1,0, 0,0,0,0,0,0,0,0,0,0,0,0,0,0,0,0, 0,0,0,0,0,0,0,0,1,4,10,3,0,0,0,0, 0,0,0,0,0,1,4,8,3,0,0,0,0,0,0,0],
[0,0,0,0,0,0,0,6,0,0,0,0,0,0,0,0, 0,0,0,0,0,0,0,0,0,0,0,0,0,0,0,0, 0,0,0,0,0,0,0,5,12,3,0,0,0,0,0,0, 0,6,2,0,0,0,0,0,0,0,0,3,1,0,0,0],
[0,0,0,0,0,0,0,5,0,0,0,0,0,0,0,0, 0,0,0,0,0,0,0,0,0,0,0,0,0,0,0,0, 0,0,0,0,0,0,0,0,4,8,3,0,0,0,0,0, 0,0,0,0,0,0,2,6,1,0,0,0,0,0,0,0],
[0,0,0,0,0,0,1,11,1,0,0,0,0,0,0,0, 0,0,0,0,0,0,0,0,0,0,0,0,0,0,0,0, 0,11.5,12.9,3,0,0,4,15.8,2,0,0,0,0,0,0,0, 0,0,0,0,0,0,0,0,0,0,0,0,0,2,4,1],
[0,0,0,0,0,0,0.5,7,1,0,0,0,0,0,0,0, 0,0,0,0,0,0,0,0,0,0,0,0,0,0,0,0, 0,0,0,0,0,0,0,0,0,1,3,0,0,0,0,0, 0,0,0,0,0,0,0,0,2,5,1,0,0,0,0,0],
[0,0,0,0,0,0,0,6,1,0,0,0,0,0,0,0, 0,0,0,0,0,0,0,0,0,0,0,0,0,0,0,0, 0,0,0,0,0,0,0,0,0,0,0,0,4,9,2,0, 0,0,0,0,0,0,0,0,0,0,0,0,3,2,0,0],
[0,0,0,0,0,0,0,7,1,0,0,0,0,0,0,0, 0,0,0,0,0,0,0,0,0,0,0,0,0,0,0,0, 0,0,0,0,0,0,0,0,0,0,0,0,2,4,1,0, 0,0,0,0,0,0,8,13,3,0,0,0,0,0,0,0],
[0,0,0,0,0,0,0,5,1,0,0,0,0,0,0,0, 0,0,0,0,0,0,0,0,0,0,0,0,0,0,0,0, 0,0,0,0,0,0,2,6,2,0,0,0,0,0,0,0, 0,2,11,3,0,0,0,0,0,0,0,0,0,0,0,0],
[0,0,0,0,0,0,0,6,2,0.5,0,1,0,0,0,0, 0,0,0,0,0,0,0,0,0,0,0,0,0,0,0,0, 0,0,0,0,0,0,0,12,3,0,0,0,0,0,0,0, 0,0,0,0,0,0,0,0,0,0,0,0,0,0,2,0],
[0,0,0,0,0,0,1,8,1,0,0,0,0,0,0,0, 0,0,0,0,0,0,0,0,0,0,0,0,0,0,0,0, 0,0,0,0,0,0,0,0,0,0,3,5,1,0,0,0, 0,0,0,0,0,0,0,0,0,0,3,8,2,0,0,0],
[0,0,0,0,0,0,0,5,0,0,0,0,0,0,0,0, 0,0,0,0,0,0,0,0,0,0,0,0,0,0,0,0, 0,0,0,0,0,0,0,0,0,0,0,0,0,0,0,0, 0,0,0,0,0,0,0,4,40,3,0,0,0,0,0,0],
[0,0,0,0,0,0,0,7,1,0,0,0,0,0,0,0, 0,0,0,0,0,0,0,0,0,0,0,0,0,0,0,0, 0,0,0,0,0,0,3,7,1,0,0,0,0,0,0,0, 0,0,0,0,0,0,0,0,0,2,5,1,0,0,0,0],
[0,0,0,0,0,0,0,6,1,0,0,0,0,0,0,0, 0,0,0,0,0,0,0,0,0,0,0,0,0,0,0,0, 0,0,0,0,0,0,0,0,0,0,0,0,0,8,2,0, 0,0,0,0,0,0,0,0,0,0,0,0,2,13,3,0]
];

// ---------- risque neige ----------
const snowHours = [12,48,54,60,66,72,78,84,90,96,102,216,222,228,234,240,246,252,258,264,270,276,282,294,300,306,312,318,324,336,342,354,360,366,372,378];
const snowPct = [29,32,81,39,35,68,45,52,26,6,3,6,6,6,3,3,3,6,6,16,16,13,10,3,3,3,6,6,6,3,6,10,6,6,10,13];

// ---------- legend of perturbations (HTML) ----------
(function(){
  const host = document.getElementById('perts');
  pertColors.forEach((c,k)=>{
    const x = 402.7 + 10.9*k;
    const n = document.createElement('div');
    n.className = 'pn'; n.style.left = (x - 0.05) + 'px'; n.style.top = '640px';
    n.textContent = String(k+1).padStart(2,'0');
    host.appendChild(n);
    const b = document.createElement('div');
    b.className = 'pb'; b.style.left = x + 'px'; b.style.top = '650px'; b.style.width = '10.9px'; b.style.background = c;
    host.appendChild(b);
  });
})();

// ---------- datasets ----------
const xy = (hrs, vals) => vals.map((v,i)=>({x:hrs[i], y:v}));
const datasets = [];
function addSeries(label, hrs, vals, color, width, order, axis, marks){
  datasets.push({
    label, data: xy(hrs, vals), yAxisID: axis, order,
    borderColor: color, backgroundColor: color, borderWidth: width,
    pointRadius: marks ? 1.5 : 0, pointStyle: 'cross', pointBorderWidth: 1,
    pointBorderColor: color, pointHoverRadius: 0, tension: 0, fill: false
  });
}
addSeries('Moyenne 850', hours6, mean850, '#ff0000', 5, 0, 'y', false);
addSeries('Moyenne 500', hours6, mean500, '#ff0000', 5, 0, 'y', false);
addSeries('Moyenne précip', precipHours, meanPrecip, '#ff0000', 4.5, 0, 'yR', false);
addSeries('Contrôle 850', hours6, ctrl850, '#0000ff', 3, 1, 'y', false);
addSeries('Contrôle 500', hours6, ctrl500, '#0000ff', 3, 1, 'y', false);
addSeries('Contrôle précip', precipHours, ctrlPrecip, '#0000ff', 3, 1, 'yR', false);
addSeries('GFS 850', hours6, gfs850, '#000000', 3, 2, 'y', false);
addSeries('GFS 500', hours6, gfs500, '#000000', 3, 2, 'y', false);
addSeries('GFS précip', precipHours, gfsPrecip, '#000000', 3, 2, 'yR', false);
pertColors.forEach((c,k)=>{
  const id = String(k+1).padStart(2,'0');
  addSeries('P'+id+' 850', pertHours, t850Perts[k], c, 1, 3, 'y', true);
  addSeries('P'+id+' 500', pertHours, t500Perts[k], c, 1, 3, 'y', true);
  addSeries('P'+id+' précip', precipHours, precipPerts[k], c, 1, 3, 'yR', true);
});

// ---------- plugins ----------
const whiteBg = {
  id: 'whiteBg',
  beforeDraw(chart){ const c = chart.ctx; c.save(); c.fillStyle = '#fff'; c.fillRect(0,0,chart.width,chart.height); c.restore(); }
};
function drawFlake(ctx, x, y, r){
  ctx.beginPath(); ctx.arc(x, y, r, 0, Math.PI*2); ctx.fillStyle = '#8fd3f4'; ctx.fill();
  ctx.strokeStyle = '#e6f7ff'; ctx.lineWidth = 1.3;
  for (let a = 0; a < 3; a++){
    const ang = Math.PI/2 + a*Math.PI/3;
    ctx.beginPath();
    ctx.moveTo(x + Math.cos(ang)*r*0.8, y + Math.sin(ang)*r*0.8);
    ctx.lineTo(x - Math.cos(ang)*r*0.8, y - Math.sin(ang)*r*0.8);
    ctx.stroke();
  }
  ctx.beginPath(); ctx.arc(x, y, 1.5, 0, Math.PI*2); ctx.fillStyle = '#3c9ad8'; ctx.fill();
}
const snowPlugin = {
  id: 'snowRisk',
  afterDatasetsDraw(chart){
    const {ctx, chartArea, scales} = chart;
    const xs = scales.x;
    const base = chartArea.bottom;
    ctx.save();
    ctx.fillStyle = '#c8fafa';
    snowHours.forEach((h,i)=>{
      const px = xs.getPixelForValue(h);
      const top = base - 17 - (0.255*snowPct[i] + 1.5);
      ctx.fillRect(px - 5, top, 10, base - 10 - top);
    });
    snowHours.forEach(h => drawFlake(ctx, xs.getPixelForValue(h), base - 12, 7));
    ctx.fillStyle = '#0000ff';
    ctx.font = 'bold 8px "DejaVu Sans Mono", monospace';
    ctx.textAlign = 'left'; ctx.textBaseline = 'middle';
    snowHours.forEach((h,i)=>{
      const px = xs.getPixelForValue(h);
      ctx.save(); ctx.translate(px, base - 19); ctx.rotate(-Math.PI/2);
      ctx.fillText(snowPct[i] + '%', 0, 0);
      ctx.restore();
    });
    ctx.restore();
  }
};

const Y_MIN = -52.87, Y_MAX = 33.0, MM_SHIFT = 45;
const tickFont = {family: '"DejaVu Sans", sans-serif', size: 10};

new Chart(document.getElementById('c'), {
  type: 'line',
  data: { datasets },
  plugins: [whiteBg, snowPlugin],
  options: {
    responsive: false, animation: false, devicePixelRatio: 1,
    layout: { padding: {left: 19, right: 0, top: 0, bottom: 0} },
    plugins: { legend: {display: false}, tooltip: {enabled: false} },
    elements: { line: {tension: 0} },
    scales: {
      x: {
        type: 'linear', min: 0, max: 384,
        afterBuildTicks: s => { s.ticks = dayHours.map(v => ({value: v})); },
        afterFit: s => { s.height = 100; s.paddingLeft = 0; s.paddingRight = 0; },
        grid: {color: '#c0c0c0', lineWidth: 1, drawTicks: true, tickLength: 5, tickColor: '#c0c0c0'},
        border: {display: true, color: '#000', width: 1},
        ticks: {autoSkip: false, maxRotation: 90, minRotation: 90, padding: -3, labelOffset: 7, color: '#000',
                font: {family: '"DejaVu Sans Mono", monospace', size: 10},
                callback: (v, i) => tickLabels[i]}
      },
      y: {
        position: 'left', min: Y_MIN, max: Y_MAX,
        afterBuildTicks: s => { s.ticks = leftTicks.map(v => ({value: v})); },
        afterFit: s => { s.width = 31; s.paddingTop = 0; s.paddingBottom = 0; },
        grid: {drawTicks: false,
               color: c => (c.tick && c.tick.value === 0) ? '#8c8c8c' : '#c0c0c0',
               lineWidth: c => (c.tick && c.tick.value === 0) ? 3 : 2},
        border: {display: false},
        ticks: {crossAlign: 'far', padding: 0, labelOffset: 2, color: '#000', font: tickFont}
      },
      yR: {
        position: 'right', min: Y_MIN + MM_SHIFT, max: Y_MAX + MM_SHIFT,
        afterBuildTicks: s => { s.ticks = rightTicks.map(v => ({value: v})); },
        afterFit: s => { s.width = 50; s.paddingTop = 0; s.paddingBottom = 0; },
        grid: {display: false, drawTicks: false},
        border: {display: false},
        ticks: {crossAlign: 'near', padding: 20, labelOffset: 2, color: '#000', font: tickFont}
      }
    }
  }
});
</script>
</body>
</html>
